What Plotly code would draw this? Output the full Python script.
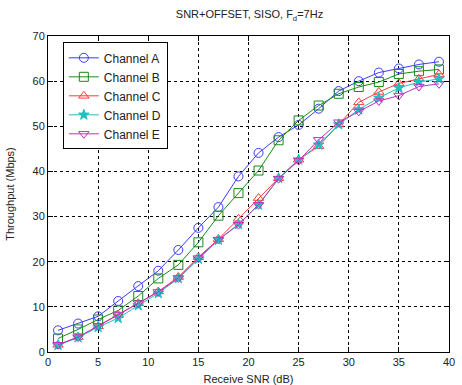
import plotly.graph_objects as go

snr = [1, 3, 5, 7, 9, 11, 13, 15, 17, 19, 21, 23, 25, 27, 29, 31, 33, 35, 37, 39]
chan_a = [4.8, 6.3, 7.9, 11.3, 14.6, 18.0, 22.6, 27.5, 32.1, 38.9, 44.1, 47.6, 50.3, 53.9, 57.8, 60.0, 61.9, 62.8, 63.7, 64.3]
chan_b = [3.0, 5.0, 7.2, 9.2, 12.4, 16.3, 19.3, 24.3, 30.2, 35.2, 40.2, 46.9, 51.3, 54.6, 57.2, 58.7, 59.8, 61.6, 62.2, 62.6]
chan_c = [1.6, 3.3, 5.7, 8.2, 10.8, 13.4, 16.6, 21.0, 25.0, 29.5, 34.1, 38.5, 42.6, 45.6, 50.4, 55.3, 57.6, 59.5, 60.5, 61.5]
chan_d = [1.5, 3.2, 5.5, 7.5, 10.3, 13.0, 16.3, 20.6, 24.8, 28.3, 32.6, 38.5, 42.6, 45.9, 50.4, 53.7, 56.3, 58.5, 59.8, 60.5]
chan_e = [1.6, 3.3, 5.8, 8.3, 10.8, 13.3, 16.4, 20.8, 24.9, 28.2, 32.6, 38.4, 42.4, 47.0, 50.9, 53.3, 55.6, 56.8, 58.8, 59.4]

names = ["Channel A", "Channel B", "Channel C", "Channel D", "Channel E"]
series = [chan_a, chan_b, chan_c, chan_d, chan_e]
colors = ["#3a3aff", "#1a8a1a", "#ff3a3a", "#20c0c0", "#c030c0"]
symbols = ["circle-open", "square-open", "triangle-up-open", "star", "triangle-down-open"]

fig = go.Figure()
for name, ys, col, sym in zip(names, series, colors, symbols):
    fig.add_trace(go.Scatter(
        x=snr, y=ys, name=name, mode="lines+markers",
        line=dict(color=col, width=1),
        marker=dict(symbol=sym, size=9 if sym != "star" else 8, color=col,
                    line=dict(color=col, width=1)),
    ))

font = "Liberation Sans, Arial, Helvetica, sans-serif"
axis_common = dict(
    showline=True, linecolor="black", linewidth=1, mirror="ticks",
    ticks="inside", ticklen=5, tickcolor="black",
    showgrid=True, gridcolor="black", gridwidth=1, griddash="dot",
    zeroline=False, automargin=False,
    tickfont=dict(size=11, color="#222", family=font),
)
fig.update_layout(
    width=462, height=385,
    margin=dict(l=48, r=13, t=36, b=33),
    paper_bgcolor="white", plot_bgcolor="white",
    font=dict(family=font, size=11, color="#222"),
    title=dict(text="SNR+OFFSET, SISO, F<sub>d</sub>=7Hz", x=0.54, xanchor="center",
               yref="container", y=0.962, yanchor="middle", font=dict(size=11, color="#222")),
    xaxis=dict(range=[0, 40], dtick=5, title=dict(text="Receive SNR (dB)",
               font=dict(size=11)), **axis_common),
    yaxis=dict(range=[0, 70], dtick=10, title=dict(text="Throughput (Mbps)",
               font=dict(size=11)), **axis_common),
    legend=dict(x=0.037, y=0.98, xanchor="left", yanchor="top",
                bgcolor="white", bordercolor="black", borderwidth=1,
                font=dict(size=12, color="#222"), tracegroupgap=0,
                itemwidth=30),
    showlegend=True,
)
fig.write_html("out.html", config={"displayModeBar": False},
               post_script="document.body.style.margin='0';")
